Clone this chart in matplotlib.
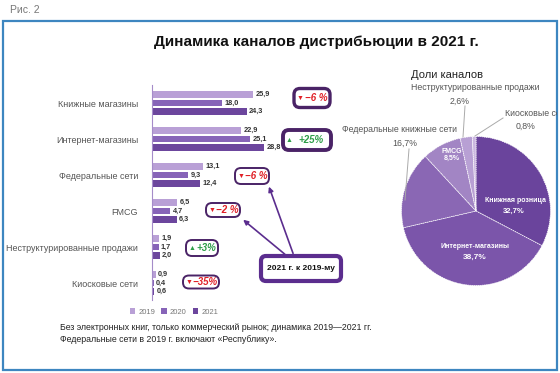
import matplotlib
matplotlib.use("Agg")
import matplotlib.pyplot as plt
from matplotlib.patches import Rectangle, FancyBboxPatch

plt.rcParams['font.family'] = ['Liberation Sans', 'DejaVu Sans']

# bar chart data (% of market)
categories = ["Книжные магазины", "Интернет-магазины", "Федеральные сети",
              "FMCG", "Неструктурированные продажи", "Киосковые сети"]
years = ["2019", "2020", "2021"]
v2019 = [25.9, 22.9, 13.1, 6.5, 1.9, 0.9]
v2020 = [18.0, 25.1, 9.3, 4.7, 1.7, 0.4]
v2021 = [24.3, 28.8, 12.4, 6.3, 2.0, 0.6]
changes = ["−6 %", "+25%", "−6 %", "−2 %", "+3%", "−35%"]
change_up = [False, True, False, False, True, False]

# pie data (shares in 2021)
pie_labels = ["Книжная розница", "Интернет-магазины", "Федеральные книжные сети",
              "FMCG", "Неструктурированные продажи", "Киосковые сети"]
pie_shares = [32.7, 38.7, 16.7, 8.5, 2.6, 0.8]

bar_colors = ["#b9a0d6", "#8764b8", "#6c469d"]
pie_colors = ["#6a449c", "#7b55aa", "#8a67b4", "#a285c4", "#b8a0d4", "#cbb8e0"]
W, H = 560, 373

fig = plt.figure(figsize=(W / 100, H / 100), dpi=100)

# ---- bars ----
ax = fig.add_axes([152 / W, (H - 300) / H, 117 / W, 215 / H])
series = [v2019, v2020, v2021]
step, bh = 0.236, 0.19
for k, vals in enumerate(series):
    ys = [i + (k - 1) * step for i in range(len(categories))]
    ax.barh(ys, vals, height=bh, color=bar_colors[k], label=years[k])
    for y, v in zip(ys, vals):
        ax.text(v + 0.6, y, f"{v:.1f}".replace(".", ","), va="center", ha="left",
                fontsize=5.3, color="#333333", fontweight="bold")
ax.set_xlim(0, 30)
ax.set_ylim(5.47, -0.5)
ax.set_yticks(range(len(categories)))
ax.set_yticklabels(categories, fontsize=6.5, color="#555555")
ax.tick_params(axis="y", length=0, pad=10)
ax.set_xticks([])
for s in ["top", "right", "bottom"]:
    ax.spines[s].set_visible(False)
ax.spines["left"].set_color("#a58cc9")
ax.patch.set_alpha(0)

fig.legend(loc="center", bbox_to_anchor=(174 / W, 1 - 312 / H), ncol=3, frameon=False,
           fontsize=5.5, handlelength=0.7, handleheight=0.7, handletextpad=0.4,
           columnspacing=0.8, labelcolor="#777777")

# ---- pie ----
pax = fig.add_axes([401.5 / W, (H - 285.5) / H, 149 / W, 149 / H])
pax.pie(pie_shares, colors=pie_colors, startangle=90, counterclock=False,
        wedgeprops=dict(edgecolor="white", linewidth=0.5, linestyle=(0, (2, 1))))
pax.set_aspect("equal")
pax.set_xlim(-1, 1)
pax.set_ylim(-1, 1)

# ---- overlay in pixel coordinates ----
ov = fig.add_axes([0, 0, 1, 1])
ov.set_xlim(0, W)
ov.set_ylim(H, 0)
ov.axis("off")

frame = Rectangle((2.5, 21), 554.5, 349, fill=False, edgecolor="#3d86c0", lw=1.6)
ov.add_patch(frame)
ov.text(10, 10, "Рис. 2", fontsize=7.5, color="#777777", va="center")
ov.text(316, 42, "Динамика каналов дистрибьюции в 2021 г.", fontsize=11,
        fontweight="bold", ha="center", va="center", color="#111111")

# change boxes
box_c = [(312, 98), (307, 140), (252, 176), (223, 210), (202, 248), (201, 282)]
box_w = [36, 48, 34, 34, 32, 36]
box_h = [19, 20, 16, 14, 16, 13]
box_lw = [2.4, 2.8, 1.4, 1.4, 1.4, 1.4]
for (cx, cy), bw, bhh, lw, txt, up in zip(box_c, box_w, box_h, box_lw, changes, change_up):
    ov.add_patch(FancyBboxPatch((cx - bw / 2, cy - bhh / 2), bw, bhh,
                                boxstyle="round,pad=0,rounding_size=6",
                                fc="white", ec="#4a2366", lw=lw, zorder=3))
    col = "#2e9e48" if up else "#e02027"
    ov.text(cx - bw / 2 + 6, cy, "▲" if up else "▼", fontsize=5, color=col,
            ha="center", va="center", zorder=4)
    ov.text(cx + 4, cy, txt, fontsize=7, color=col, fontweight="bold", style="italic",
            ha="center", va="center", zorder=4)

# callout box with arrows
ov.annotate("", xy=(268, 184), xytext=(294, 256),
            arrowprops=dict(arrowstyle="-|>", color="#5b2d8e", lw=1.2, mutation_scale=7))
ov.annotate("", xy=(241, 218), xytext=(287, 256),
            arrowprops=dict(arrowstyle="-|>", color="#5b2d8e", lw=1.2, mutation_scale=7))
ov.add_patch(FancyBboxPatch((261, 256), 80, 25, boxstyle="round,pad=0,rounding_size=5",
                            fc="white", ec="#5b2d8e", lw=3, zorder=3))
ov.text(301, 268.5, "2021 г. к 2019-му", fontsize=6, fontweight="bold", ha="center",
        va="center", color="#111111", zorder=4)

# pie labels
ov.text(447, 75, "Доли каналов", fontsize=8, ha="center", va="center", color="#222222")
lab_col = "#555555"
ov.text(475, 88, pie_labels[4], fontsize=6.3, ha="center", va="center", color=lab_col)
ov.text(460, 101, "2,6%", fontsize=6.3, ha="center", va="center", color=lab_col)
ov.text(505, 113, pie_labels[5], fontsize=6.3, ha="left", va="center", color=lab_col,
        clip_on=True).set_clip_path(frame)
ov.text(526, 126, "0,8%", fontsize=6.3, ha="center", va="center", color=lab_col)
ov.text(400, 130, pie_labels[2], fontsize=6.3, ha="center", va="center", color=lab_col)
ov.text(405, 143, "16,7%", fontsize=6.3, ha="center", va="center", color=lab_col)
ov.plot([409, 405], [149, 200], color="#aaaaaa", lw=0.7)
ov.plot([465, 463], [106, 137], color="#aaaaaa", lw=0.7)
ov.plot([503, 475], [118, 136], color="#aaaaaa", lw=0.7)

ov.text(452, 155, "FMCG\n8,5%", fontsize=5, fontweight="bold", color="white",
        ha="center", va="center", linespacing=1.1)
ov.text(515, 201, pie_labels[0], fontsize=5, fontweight="bold", color="white",
        ha="center", va="center")
ov.text(514, 211, "32,7%", fontsize=5.5, fontweight="bold", color="white",
        ha="center", va="center")
ov.text(475, 247, pie_labels[1], fontsize=5, fontweight="bold", color="white",
        ha="center", va="center")
ov.text(475, 257, "38,7%", fontsize=6, fontweight="bold", color="white",
        ha="center", va="center")

# footnote
ov.text(60, 327, "Без электронных книг, только коммерческий рынок; динамика 2019—2021 гг.",
        fontsize=6.3, color="#222222", va="center")
ov.text(60, 340, "Федеральные сети в 2019 г. включают «Республику».",
        fontsize=6.3, color="#222222", va="center")

fig.savefig("out.png", dpi=100)
plt.close()
